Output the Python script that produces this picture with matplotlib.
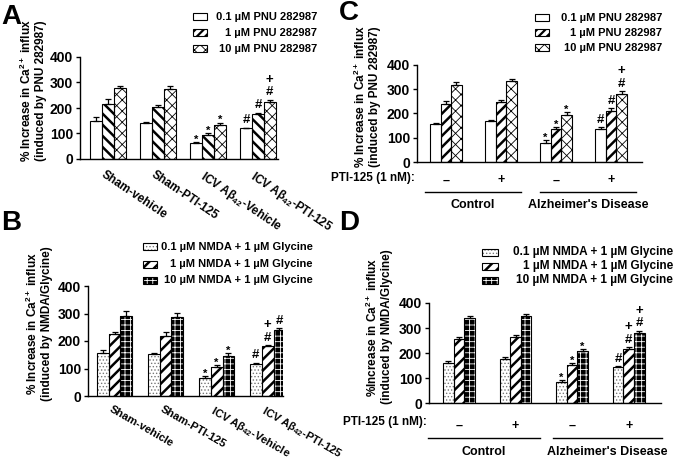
import numpy as np
import matplotlib
matplotlib.use("Agg")
import matplotlib.pyplot as plt
from matplotlib.patches import Rectangle

plt.rcParams['font.family'] = ['Liberation Sans', 'DejaVu Sans']
plt.rcParams['font.weight'] = 'bold'
plt.rcParams['mathtext.fontset'] = 'custom'
plt.rcParams['mathtext.rm'] = 'Liberation Sans:bold'
plt.rcParams['mathtext.it'] = 'Liberation Sans:bold'
plt.rcParams['mathtext.bf'] = 'Liberation Sans:bold'
plt.rcParams['hatch.linewidth'] = 1.0

W, H = 676, 461

# ---- data ----
groups_ab = ['Sham-vehicle', 'Sham-PTI-125',
             'ICV Aβ$_{42}$-Vehicle', 'ICV Aβ$_{42}$-PTI-125']
pti_signs = ['–', '+', '–', '+']
group_cd = ['Control', "Alzheimer's Disease"]
pnu_labels = ['0.1 µM PNU 282987', '1 µM PNU 282987', '10 µM PNU 282987']
nmda_labels = ['0.1 µM NMDA + 1 µM Glycine', '1 µM NMDA + 1 µM Glycine',
               '10 µM NMDA + 1 µM Glycine']

# rows = concentration (0.1, 1, 10), columns = groups
a_mean = [[149, 140, 62, 120], [216, 205, 96, 176], [280, 274, 133, 224]]
a_err = [[15, 5, 4, 3], [18, 5, 4, 5], [5, 12, 10, 8]]
b_mean = [[157, 154, 66, 117], [224, 219, 106, 181], [291, 286, 145, 240]]
b_err = [[9, 4, 8, 4], [8, 14, 8, 4], [17, 17, 10, 6]]
c_mean = [[155, 171, 80, 137], [240, 247, 137, 212], [318, 333, 193, 280]]
c_err = [[5, 3, 10, 6], [10, 10, 8, 10], [10, 8, 12, 12]]
d_mean = [[162, 177, 85, 143], [255, 263, 151, 218], [340, 350, 210, 282]]
d_err = [[8, 8, 8, 5], [8, 8, 8, 5], [10, 8, 5, 8]]

# significance marks: (group, series) -> symbols bottom-up
a_marks = {(2, 0): '*', (2, 1): '*', (2, 2): '*',
           (3, 0): '#', (3, 1): '#', (3, 2): '#+'}
b_marks = {(2, 0): '*', (2, 1): '*', (2, 2): '*',
           (3, 0): '#', (3, 1): '#+', (3, 2): '#'}
c_marks = {(2, 0): '*', (2, 1): '*', (2, 2): '*',
           (3, 0): '#', (3, 1): '#', (3, 2): '#+'}
d_marks = {(2, 0): '*', (2, 1): '*', (2, 2): '*',
           (3, 0): '#', (3, 1): '#+', (3, 2): '#+'}

# bar styles: face, hatch colour, hatch, hatch lw
pnu_a = [('white', 'black', None, 1), ('white', 'black', '\\\\\\', 1.8),
         ('white', 'black', 'xxx', 0.6)]
pnu_c = [('white', 'black', None, 1), ('white', 'black', '///', 1.8),
         ('white', 'black', 'xxx', 0.6)]
pnu_leg = [('white', 'black', None, 1), ('white', 'black', '////', 1.6),
           ('white', 'black', 'xxx', 0.6)]
nmda = [('white', '#777777', '.....', 0.6), ('white', 'black', '///', 1.8),
        ('black', 'white', '+++', 0.6)]


def fx(x):
    return x / W


def fy(y):
    return 1 - y / H


def add_axes(fig, l, r, t, b):
    return fig.add_axes([fx(l), fy(b), fx(r - l), (b - t) / H])


def set_hlw(p, lw):
    if hasattr(p, 'set_hatch_linewidth'):
        p.set_hatch_linewidth(lw)


def draw_bars(ax, means, errs, styles, width, xlim):
    x = np.arange(4)
    for i in range(3):
        pos = x + (i - 1) * width
        fc, hc, hatch, hlw = styles[i]
        bars = ax.bar(pos, means[i], width, color=fc, edgecolor=hc,
                      hatch=hatch, linewidth=0, zorder=2)
        for p in bars:
            set_hlw(p, hlw)
        ax.bar(pos, means[i], width, fill=False, edgecolor='black',
               linewidth=0.8, zorder=3)
        ax.errorbar(pos, means[i], yerr=[np.zeros(4), errs[i]], fmt='none',
                    ecolor='black', elinewidth=0.9, capsize=2, capthick=0.9,
                    zorder=4)
    ax.set_xlim(*xlim)
    ax.set_ylim(0, 400)
    ax.set_yticks([0, 100, 200, 300, 400])
    ax.spines['top'].set_visible(False)
    ax.spines['right'].set_visible(False)
    ax.spines['left'].set_linewidth(1)
    ax.spines['bottom'].set_linewidth(1)
    ax.tick_params(axis='y', length=3, width=1, labelsize=10, pad=2)
    ax.tick_params(axis='x', length=0)
    for t in ax.get_yticklabels():
        t.set_fontweight('bold')


def draw_marks(ax, marks, means, errs, width):
    for (g, s), sym in marks.items():
        xpos = g + (s - 1) * width
        top = means[s][g] + errs[s][g]
        for k, ch in enumerate(sym):
            if ch == '*':
                off, fs = -2, 8
            else:
                off, fs = 1, 9.5
            ax.annotate(ch, (xpos, top), xytext=(0, off + k * 9),
                        textcoords='offset points', ha='center', va='bottom',
                        fontsize=fs, fontweight='bold')


def legend(fig, labels, styles, sx, sw, xr, ys, fs=8):
    for lab, st, y in zip(labels, styles, ys):
        fc, hc, hatch, hlw = st
        r = Rectangle((fx(sx), fy(y + 3.5)), sw / W, 7 / H, transform=fig.transFigure,
                      facecolor=fc, edgecolor=hc, hatch=hatch, linewidth=0)
        set_hlw(r, hlw)
        fig.add_artist(r)
        fig.add_artist(Rectangle((fx(sx), fy(y + 3.5)), sw / W, 7 / H,
                                 transform=fig.transFigure, fill=False,
                                 edgecolor='black', linewidth=0.8))
        fig.text(fx(xr), fy(y), lab, ha='right', va='center', fontsize=fs,
                 fontweight='bold')


def ylabel(fig, x, y, first, second):
    fig.text(fx(x), fy(y), first + '\n' + second,
             rotation=90, ha='center', va='center', fontsize=8.5,
             fontweight='bold', linespacing=1.15, multialignment='center')


def group_rows(ax, fig, sign_y, line_y, lab_y, lines, pti_x, pti_y):
    ax.set_xticks(range(4))
    ax.set_xticklabels(pti_signs, fontsize=9, fontweight='bold')
    ax.tick_params(axis='x', pad=sign_y)
    tr = ax.get_xaxis_transform()
    for (x0, x1), name in zip(lines, group_cd):
        ax.plot([x0, x1], [line_y, line_y], color='black', lw=1,
                transform=tr, clip_on=False)
        ax.text((x0 + x1) / 2, lab_y, name, transform=tr, ha='center',
                va='center', fontsize=9, fontweight='bold')
    fig.text(fx(pti_x), fy(pti_y), 'PTI-125 (1 nM):', ha='right',
             va='center', fontsize=8.5, fontweight='bold')


def group_names(ax, pad, fs, rot):
    ax.set_xticks(np.arange(4) - 0.04)
    ax.set_xticklabels(groups_ab, rotation=rot, ha='left', va='top',
                       rotation_mode='anchor', fontsize=fs,
                       fontweight='bold')
    ax.tick_params(axis='x', pad=pad)


ca_line = '% Increase in Ca$^{2+}$ influx'

fig = plt.figure(figsize=(W / 100, H / 100), dpi=100)

# ---- panel A ----
axA = add_axes(fig, 80, 278, 57, 159)
wA = 0.236
draw_bars(axA, a_mean, a_err, pnu_a, wA, (-0.556, 3.40))
draw_marks(axA, a_marks, a_mean, a_err, wA)
group_names(axA, 7, 8.5, -34)
ylabel(fig, 33, 91, ca_line, '(induced by PNU 282987)')
legend(fig, pnu_labels, pnu_leg, 193, 14, 317, [17, 33, 49])

# ---- panel B ----
axB = add_axes(fig, 88, 283, 286, 396)
wB = 0.23
draw_bars(axB, b_mean, b_err, nmda, wB, (-0.52, 3.30))
draw_marks(axB, b_marks, b_mean, b_err, wB)
group_names(axB, 6, 8, -30)
ylabel(fig, 39, 324, ca_line, '(induced by NMDA/Glycine)')
legend(fig, nmda_labels, nmda, 143, 14, 313, [247, 264, 280])

# ---- panel C ----
axC = add_axes(fig, 417, 642, 65, 162)
wC = 0.19
draw_bars(axC, c_mean, c_err, pnu_c, wC, (-0.527, 3.56))
draw_marks(axC, c_marks, c_mean, c_err, wC)
group_rows(axC, fig, 9, -0.309, -0.443, [(-0.38, 1.36), (1.71, 3.45)],
           415, 178)
ylabel(fig, 367, 97, ca_line, '(induced by PNU 282987)')
legend(fig, pnu_labels, pnu_leg, 535, 14, 662, [18, 33, 48])

# ---- panel D ----
axD = add_axes(fig, 429, 661, 303, 403)
wD = 0.186
draw_bars(axD, d_mean, d_err, nmda, wD, (-0.53, 3.57))
draw_marks(axD, d_marks, d_mean, d_err, wD)
group_rows(axD, fig, 12, -0.35, -0.49, [(-0.55, 1.43), (1.66, 3.59)],
           427, 422)
ylabel(fig, 379, 327, '%Increase in Ca$^{2+}$ influx', '(induced by NMDA/Glycine)')
legend(fig, nmda_labels, nmda, 482, 16, 673, [252, 266, 280], fs=8.5)

# panel letters
for lab, x, y in [('A', 1, 4), ('B', 1, 210), ('C', 339, 0), ('D', 339, 210)]:
    fig.text(fx(x), fy(y), lab, fontsize=20, fontweight='bold', va='top',
             ha='left')

fig.savefig('out.png', dpi=100)
